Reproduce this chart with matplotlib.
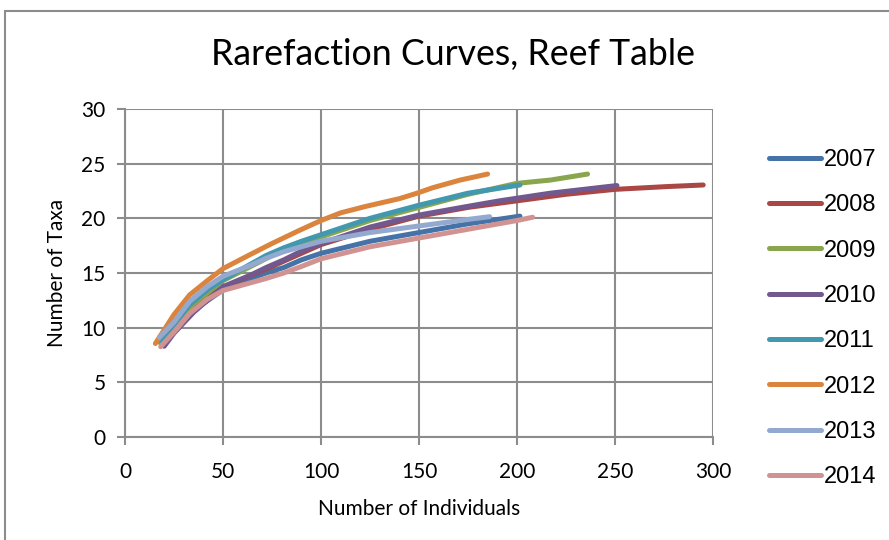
import matplotlib.pyplot as plt
from matplotlib.patches import Rectangle

# rarefaction data: number of individuals vs expected number of taxa
years = ["2007", "2008", "2009", "2010", "2011", "2012", "2013", "2014"]

x_2007 = [20, 25, 35, 50, 64, 72, 81, 90, 100, 125, 150, 175, 201.5]
y_2007 = [8.4, 9.8, 11.6, 13.45, 14.5, 15.0, 15.5, 16.2, 16.8, 17.9, 18.7, 19.5, 20.2]

x_2008 = [19, 25, 35, 50, 75, 100, 125, 150, 175, 200, 225, 250, 276, 295]
y_2008 = [8.5, 10.0, 12.0, 13.7, 15.6, 17.6, 19.0, 20.2, 21.0, 21.6, 22.2, 22.65, 22.9, 23.05]

x_2009 = [18, 25, 35, 50, 75, 100, 125, 150, 175, 200, 217, 236]
y_2009 = [8.6, 10.3, 12.2, 14.3, 16.6, 18.3, 19.8, 21.0, 22.2, 23.2, 23.5, 24.05]

x_2010 = [20, 25, 35, 50, 64, 72, 81, 90, 100, 125, 150, 175, 191, 217, 251]
y_2010 = [8.3, 9.5, 11.4, 13.75, 14.8, 15.5, 16.2, 17.0, 17.7, 19.2, 20.3, 21.1, 21.6, 22.3, 23.0]

x_2011 = [18, 25, 33, 42, 50, 64, 72, 81, 90, 100, 125, 150, 175, 201.5]
y_2011 = [8.8, 10.3, 12.1, 13.45, 14.4, 15.8, 16.6, 17.3, 17.9, 18.5, 20.0, 21.2, 22.3, 23.05]

x_2012 = [15.5, 25, 33, 42, 50, 64, 75, 89, 100, 110, 123, 140, 149, 157, 171, 185]
y_2012 = [8.55, 11.2, 13.0, 14.3, 15.4, 16.7, 17.7, 18.9, 19.8, 20.5, 21.1, 21.8, 22.3, 22.8, 23.5, 24.05]

x_2013 = [17.5, 25, 33, 42, 50, 64, 72, 81, 90, 100, 125, 150, 175, 186]
y_2013 = [9.1, 10.5, 12.4, 13.75, 14.7, 15.7, 16.35, 16.95, 17.4, 17.9, 18.7, 19.3, 19.9, 20.15]

x_2014 = [18.2, 25, 33, 42, 50, 64, 72, 81, 90, 100, 125, 150, 175, 200, 208]
y_2014 = [8.26, 9.6, 11.3, 12.6, 13.4, 14.1, 14.5, 15.0, 15.6, 16.3, 17.4, 18.2, 19.0, 19.8, 20.1]

xs = [x_2007, x_2008, x_2009, x_2010, x_2011, x_2012, x_2013, x_2014]
ys = [y_2007, y_2008, y_2009, y_2010, y_2011, y_2012, y_2013, y_2014]
colors = ["#4572A7", "#AA4643", "#89A54E", "#71588F",
          "#4198AF", "#DB843D", "#93A9CF", "#D19392"]

x_ticks = [0, 50, 100, 150, 200, 250, 300]
y_ticks = [0, 5, 10, 15, 20, 25, 30]

label_font = ["Lato", "DejaVu Sans"]
grid_color = "#8c8c8c"

fig = plt.figure(figsize=(8.89, 5.4), dpi=100)
ax = fig.add_axes([125 / 889, 1 - 437 / 540, 588 / 889, 328 / 540])

for x, y, c, name in zip(xs, ys, colors, years):
    ax.plot(x, y, color=c, lw=3.6, solid_capstyle="round",
            solid_joinstyle="round", label=name)

ax.set_xlim(0, 300)
ax.set_ylim(0, 30)
ax.set_xticks(x_ticks)
ax.set_yticks(y_ticks)
ax.grid(True, color=grid_color, lw=1.5)
ax.set_axisbelow(True)
for side in ["top", "right"]:
    ax.spines[side].set_visible(False)
for side in ["left", "bottom"]:
    ax.spines[side].set_color(grid_color)
    ax.spines[side].set_linewidth(1.5)
ax.tick_params(colors=grid_color, length=6, width=1.5, labelcolor="black",
               labelsize=15, pad=8)
ax.tick_params(axis="x", pad=12)
for lab in ax.get_xticklabels() + ax.get_yticklabels():
    lab.set_family(label_font)

ax.set_xlabel("Number of Individuals", fontsize=15, family=label_font, labelpad=12)
ax.set_ylabel("Number of Taxa", fontsize=15, family=label_font, labelpad=10)

fig.text(453 / 889, 1 - 55 / 540, "Rarefaction Curves, Reef Table",
         ha="center", va="center", fontsize=25.7, family=label_font)

leg = ax.legend(loc="upper left", bbox_to_anchor=(757 / 889, 1 - 137 / 540),
                bbox_transform=fig.transFigure, frameon=False,
                prop={"family": "Liberation Sans", "size": 17},
                handlelength=2.2, handletextpad=0.15, labelspacing=0.99,
                borderpad=0)
for line in leg.get_lines():
    line.set_linewidth(3.6)

# outer chart frame, running off the right and bottom edges
fig.patches.append(Rectangle((5 / 889, -0.1), 1.2, 1 - 11 / 540 + 0.1,
                             transform=fig.transFigure, fill=False,
                             edgecolor="#8c8c8c", lw=1.5))

fig.savefig("out.png", dpi=100)
